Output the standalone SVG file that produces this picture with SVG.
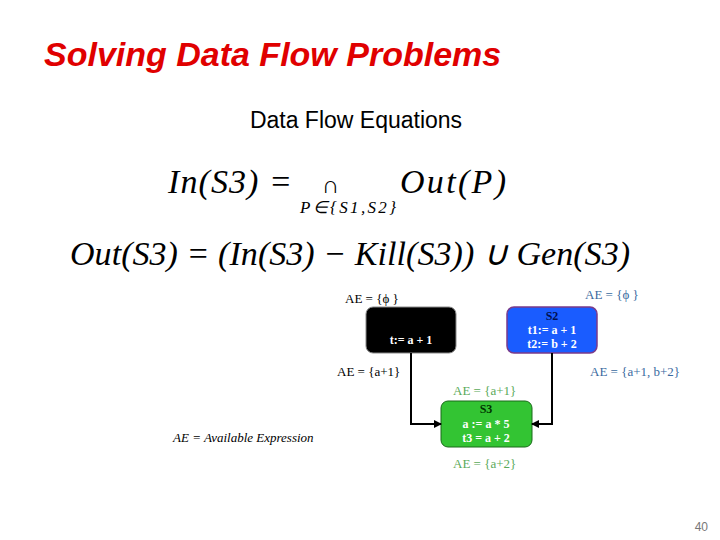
<svg xmlns="http://www.w3.org/2000/svg" width="720" height="540" viewBox="0 0 720 540">
<style>
.eq{font-family:'Liberation Serif','Times New Roman',serif;font-style:italic;font-size:34px;fill:#000}
.ae{font-family:'Liberation Serif',serif;font-size:13px}
.bx{font-family:'Liberation Serif',serif;font-size:12px;font-weight:bold;fill:#fff;text-anchor:middle}
.ln{fill:none;stroke:#000;stroke-width:2}
</style>
<defs><marker id="ar" markerWidth="8" markerHeight="8" refX="7" refY="4" orient="auto" markerUnits="userSpaceOnUse"><path d="M0,0 L8,4 L0,8 Z" fill="#000"/></marker></defs>
<rect width="720" height="540" fill="#fff"/>
<text x="44" y="66" font-family="Liberation Sans,sans-serif" font-style="italic" font-weight="bold" font-size="34" fill="#e00000">Solving Data Flow Problems</text>
<text x="356" y="128" font-family="Liberation Sans,sans-serif" font-size="23" text-anchor="middle">Data Flow Equations</text>
<text class="eq" x="168" y="193" textLength="124">In(S3) =</text>
<text x="322" y="193" font-family="Liberation Serif,serif" font-size="24">∩</text>
<text x="300" y="213" font-family="Liberation Serif,serif" font-style="italic" font-size="17" textLength="96">P∈{S1,S2}</text>
<text class="eq" x="400" y="193" textLength="106">Out(P)</text>
<text class="eq" x="70" y="265" textLength="560">Out(S3) = (In(S3) − Kill(S3)) ∪ Gen(S3)</text>
<g id="S1"><rect x="366" y="307" width="90" height="46" rx="7" fill="#000" stroke="#888"/><text class="bx" x="411" y="344">t:= a + 1</text></g>
<g id="S2"><rect x="507" y="307" width="90" height="46" rx="7" fill="#1a5cff" stroke="#7a3a8a" stroke-width="1.5"/><text class="bx" x="552" y="320" style="fill:#001050">S2</text><text class="bx" x="552" y="334">t1:= a + 1</text><text class="bx" x="552" y="348">t2:= b + 2</text></g>
<g id="S3"><rect x="441" y="401" width="91" height="46" rx="7" fill="#33c433" stroke="#1a6a1a"/><text class="bx" x="486" y="413" style="fill:#003300">S3</text><text class="bx" x="486" y="428">a := a * 5</text><text class="bx" x="486" y="442">t3 = a + 2</text></g>
<g id="connectors">
<path class="ln" d="M411,353 V424 H441" marker-end="url(#ar)"/>
<path class="ln" d="M552,353 V424 H532" marker-end="url(#ar)"/>
</g>
<g id="labels">
<text class="ae" x="345" y="303">AE = {ϕ }</text>
<text class="ae" x="585" y="299" fill="#3a6aa0">AE = {ϕ }</text>
<text class="ae" x="337" y="376">AE = {a+1}</text>
<text class="ae" x="590" y="376" fill="#3a6aa0">AE = {a+1, b+2}</text>
<text class="ae" x="453" y="395" fill="#5aaa5a">AE = {a+1}</text>
<text class="ae" x="453" y="468" fill="#5aaa5a">AE = {a+2}</text>
<text class="ae" x="173" y="442" font-style="italic">AE = Available Expression</text>
</g>
<text x="708" y="531" font-family="Liberation Sans,sans-serif" font-size="12" fill="#777" text-anchor="end">40</text>
</svg>
